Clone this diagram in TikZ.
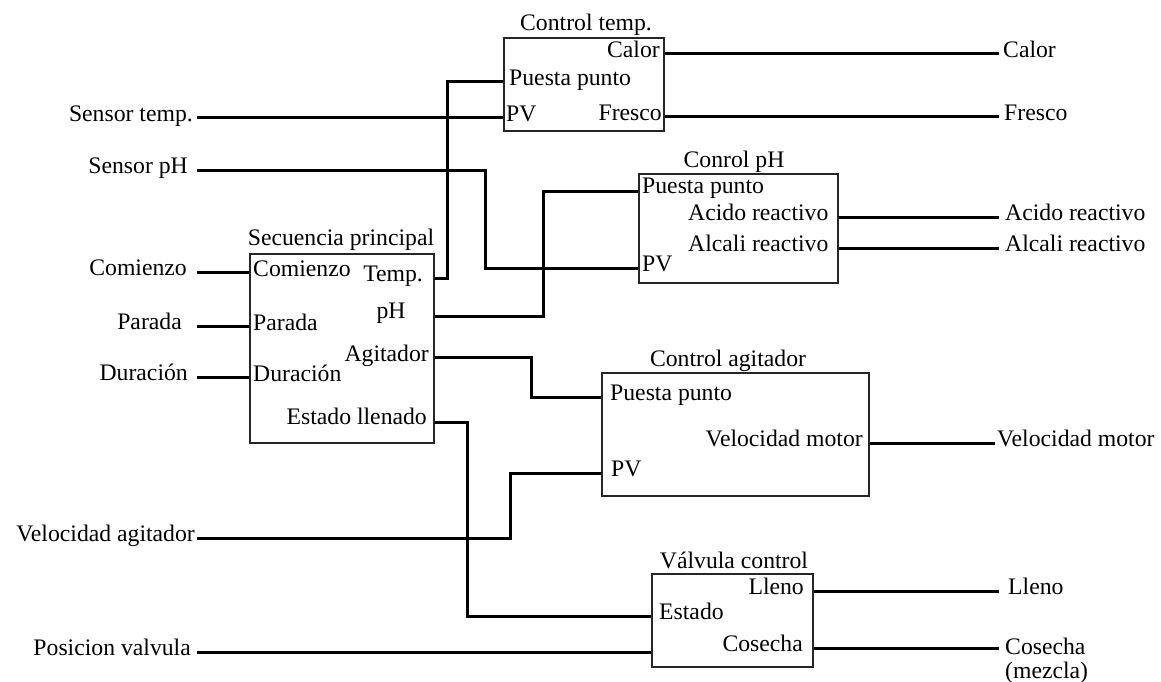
\documentclass[tikz,border=0pt]{standalone}
\usepackage{fontspec}
\setmainfont{Liberation Serif}
\pgfdeclarelayer{edgelayer}
\pgfdeclarelayer{nodelayer}
\pgfsetlayers{edgelayer,nodelayer,main}
\tikzstyle{none}=[inner sep=0pt]
\tikzstyle{block}=[rectangle,draw=black!85,line width=1.5pt]
\tikzstyle{title}=[inner sep=0pt,anchor=base]
\tikzstyle{tag west}=[inner sep=0pt,anchor=mid west,yshift=-1.5pt]
\tikzstyle{tag east}=[inner sep=0pt,anchor=mid east,yshift=-1.5pt]
\tikzstyle{wire}=[-,draw=black,line width=3pt]

\begin{document}
\begin{tikzpicture}[x=1pt,y=-1pt,font=\fontsize{23.7}{24}\selectfont]
	\useasboundingbox (0,0) rectangle (1161,682);
	\begin{pgfonlayer}{nodelayer}
		\node [style=block, minimum width=184pt, minimum height=189pt] (0) at (342, 348.5) {};
		\node [style=block, minimum width=160pt, minimum height=93pt] (1) at (584, 84.5) {};
		\node [style=block, minimum width=199pt, minimum height=109pt] (2) at (738.5, 228.5) {};
		\node [style=block, minimum width=267pt, minimum height=123pt] (3) at (735.5, 434.5) {};
		\node [style=block, minimum width=161pt, minimum height=93pt] (4) at (732.5, 620.5) {};
		\node [style=title] (5) at (341, 245) {Secuencia principal};
		\node [style=title] (6) at (586, 31) {Control temp.};
		\node [style=title] (7) at (734, 167) {Conrol pH};
		\node [style=title] (8) at (728, 366) {Control agitador};
		\node [style=title] (9) at (734, 568) {Válvula control};
		\node [style=tag west] (10) at (253, 273) {Comienzo};
		\node [style=tag west] (11) at (253, 327) {Parada};
		\node [style=tag west] (12) at (253, 378) {Duración};
		\node [style=tag east] (13) at (423, 278) {Temp.};
		\node [style=none, anchor=mid] (14) at (391, 316) {pH};
		\node [style=tag east] (15) at (429, 358) {Agitador};
		\node [style=tag east] (16) at (427, 421) {Estado llenado};
		\node [style=tag east] (17) at (660, 54) {Calor};
		\node [style=tag west] (18) at (509, 82) {Puesta punto};
		\node [style=tag west] (19) at (506, 118) {PV};
		\node [style=tag east] (20) at (662, 117) {Fresco};
		\node [style=tag west] (21) at (642, 190) {Puesta punto};
		\node [style=tag west] (22) at (688, 217) {Acido reactivo};
		\node [style=tag west] (23) at (688, 248) {Alcali reactivo};
		\node [style=tag west] (24) at (642, 268) {PV};
		\node [style=tag west] (25) at (610, 397) {Puesta punto};
		\node [style=tag east] (26) at (863, 443) {Velocidad motor};
		\node [style=tag west] (27) at (611, 473) {PV};
		\node [style=tag east] (28) at (804, 591) {Lleno};
		\node [style=tag west] (29) at (659, 616) {Estado};
		\node [style=tag east] (30) at (803, 648) {Cosecha};
		\node [style=tag east] (31) at (193, 118) {Sensor temp.};
		\node [style=tag east] (32) at (188, 170) {Sensor pH};
		\node [style=tag east] (33) at (187, 272) {Comienzo};
		\node [style=tag east] (34) at (182, 326) {Parada};
		\node [style=tag east] (35) at (188, 377) {Duración};
		\node [style=tag east] (36) at (195, 538) {Velocidad agitador};
		\node [style=tag east] (37) at (191, 652) {Posicion valvula};
		\node [style=tag west] (38) at (1003, 54) {Calor};
		\node [style=tag west] (39) at (1004, 117) {Fresco};
		\node [style=tag west] (40) at (1005, 217) {Acido reactivo};
		\node [style=tag west] (41) at (1005, 248) {Alcali reactivo};
		\node [style=tag west] (42) at (997, 443) {Velocidad motor};
		\node [style=tag west] (43) at (1008, 591) {Lleno};
		\node [style=none, align=left, anchor=north west] (44) at (1005, 638) {Cosecha\\(mezcla)};
		\node [style=none] (45) at (250, 272) {};
		\node [style=none] (46) at (250, 326) {};
		\node [style=none] (47) at (250, 377) {};
		\node [style=none] (48) at (434, 278) {};
		\node [style=none] (49) at (434, 316) {};
		\node [style=none] (50) at (434, 357) {};
		\node [style=none] (51) at (434, 422) {};
		\node [style=none] (52) at (504, 82) {};
		\node [style=none] (53) at (504, 118) {};
		\node [style=none] (54) at (664, 54) {};
		\node [style=none] (55) at (664, 117) {};
		\node [style=none] (56) at (639, 191) {};
		\node [style=none] (57) at (639, 268) {};
		\node [style=none] (58) at (838, 217) {};
		\node [style=none] (59) at (838, 248) {};
		\node [style=none] (60) at (602, 397) {};
		\node [style=none] (61) at (602, 473) {};
		\node [style=none] (62) at (869, 443) {};
		\node [style=none] (63) at (652, 616) {};
		\node [style=none] (64) at (652, 652) {};
		\node [style=none] (65) at (813, 591) {};
		\node [style=none] (66) at (813, 648) {};
		\node [style=none] (67) at (197, 118) {};
		\node [style=none] (68) at (197, 170) {};
		\node [style=none] (69) at (197, 272) {};
		\node [style=none] (70) at (197, 326) {};
		\node [style=none] (71) at (197, 377) {};
		\node [style=none] (72) at (197, 538) {};
		\node [style=none] (73) at (197, 652) {};
		\node [style=none] (74) at (999, 54) {};
		\node [style=none] (75) at (999, 117) {};
		\node [style=none] (76) at (999, 217) {};
		\node [style=none] (77) at (999, 248) {};
		\node [style=none] (78) at (995, 443) {};
		\node [style=none] (79) at (999, 591) {};
		\node [style=none] (80) at (999, 648) {};
		\node [style=none] (81) at (485, 268) {};
		\node [style=none] (82) at (447, 82) {};
		\node [style=none] (83) at (543, 191) {};
		\node [style=none] (84) at (531, 397) {};
		\node [style=none] (85) at (467, 616) {};
		\node [style=none] (86) at (510, 473) {};
	\end{pgfonlayer}
	\begin{pgfonlayer}{edgelayer}
		\draw [style=wire] (67.center) to (53.center);
		\draw [style=wire] (68.center) -| (81.center) -- (57.center);
		\draw [style=wire] (69.center) to (45.center);
		\draw [style=wire] (70.center) to (46.center);
		\draw [style=wire] (71.center) to (47.center);
		\draw [style=wire] (48.center) -| (82.center) -- (52.center);
		\draw [style=wire] (49.center) -| (83.center) -- (56.center);
		\draw [style=wire] (50.center) -| (84.center) -- (60.center);
		\draw [style=wire] (51.center) -| (85.center) -- (63.center);
		\draw [style=wire] (72.center) -| (86.center) -- (61.center);
		\draw [style=wire] (73.center) to (64.center);
		\draw [style=wire] (54.center) to (74.center);
		\draw [style=wire] (55.center) to (75.center);
		\draw [style=wire] (58.center) to (76.center);
		\draw [style=wire] (59.center) to (77.center);
		\draw [style=wire] (62.center) to (78.center);
		\draw [style=wire] (65.center) to (79.center);
		\draw [style=wire] (66.center) to (80.center);
	\end{pgfonlayer}
\end{tikzpicture}
\end{document}
